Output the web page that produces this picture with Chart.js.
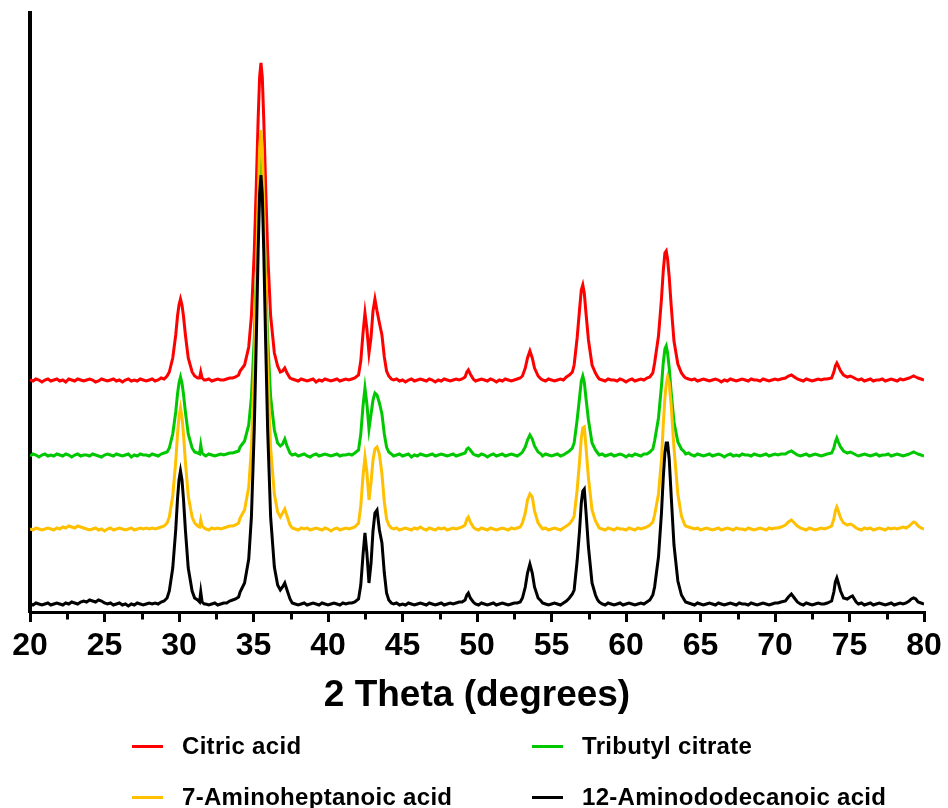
<!DOCTYPE html>
<html>
<head>
<meta charset="utf-8">
<title>XRD patterns</title>
<script src="https://cdn.jsdelivr.net/npm/chart.js@4.4.1/dist/chart.umd.min.js"></script>
<style>
  html, body { margin: 0; padding: 0; background: #fff; }
  #wrap { position: relative; width: 948px; height: 808px; overflow: hidden; }
  #xrd { position: absolute; left: 0; top: 0; }
  #legend {
    position: absolute; left: 0; top: 0; width: 948px; height: 808px; pointer-events: none;
    font-family: "Liberation Sans", Arial, sans-serif; font-weight: bold; font-size: 24px;
    letter-spacing: 0.3px; color: #000;
  }
  .item { position: absolute; display: flex; align-items: center; height: 30px; white-space: nowrap; }
  .swatch { width: 31px; height: 3px; margin-right: 19px; }
  .i0 { left: 132px; top: 731px; }
  .i1 { left: 532px; top: 731px; }
  .i2 { left: 132px; top: 782px; }
  .i3 { left: 532px; top: 782px; }
</style>
</head>
<body>
<div id="wrap">
  <canvas id="xrd" width="948" height="808"></canvas>
  <div id="legend"></div>
</div>
<script>
// 2θ positions (degrees), denser around the reflections
const twoTheta = [
  20.0, 20.2, 20.4, 20.6, 20.8, 21.0, 21.2, 21.4, 21.6, 21.8, 22.0, 22.2, 22.4, 22.6, 22.8, 23.0, 23.2, 23.4, 23.6, 23.8, 24.0, 24.2, 24.4, 24.6, 24.8, 25.0, 25.2, 25.4, 25.6, 25.8, 26.0, 26.2, 26.4, 26.6, 26.8, 27.0, 27.2, 27.4, 27.6, 27.8, 28.0, 28.2, 28.4, 28.6, 28.8, 29.0, 29.2,
  29.35, 29.58, 29.78, 29.9, 30.0, 30.1, 30.2, 30.3, 30.43, 30.62, 30.88, 31.05, 31.25,
  31.38, 31.46, 31.55, 31.7,
  31.8, 32.0, 32.2, 32.4, 32.6, 32.8, 33.0, 33.2, 33.4, 33.6, 33.8, 34.0,
  34.1, 34.4, 34.68, 34.86, 35.05, 35.18, 35.31, 35.41, 35.5, 35.59, 35.69, 35.82, 35.95, 36.15, 36.4, 36.62, 36.8,
  36.95, 37.1, 37.25, 37.45,
  37.6, 37.8, 38.0, 38.2, 38.4, 38.6, 38.8, 39.0, 39.2, 39.4, 39.6, 39.8, 40.0, 40.2, 40.4, 40.6, 40.8, 41.0, 41.2, 41.4, 41.6, 41.8,
  42.05, 42.2, 42.35, 42.48, 42.61, 42.75, 42.89, 43.02, 43.15, 43.29, 43.45, 43.62, 43.78, 43.93, 44.08, 44.25,
  44.4, 44.6, 44.8, 45.0, 45.2, 45.4, 45.6, 45.8, 46.0, 46.2, 46.4, 46.6, 46.8, 47.0, 47.2, 47.4, 47.6, 47.8, 48.0, 48.2, 48.4, 48.6, 48.8, 49.0,
  49.2, 49.32, 49.42, 49.55, 49.75,
  49.9, 50.1, 50.3, 50.5, 50.7, 50.9, 51.1, 51.3, 51.5, 51.7, 51.9, 52.1, 52.3, 52.5, 52.7, 52.9,
  53.05, 53.24, 53.39, 53.55, 53.71, 53.86, 54.1, 54.3,
  54.4, 54.6, 54.8, 55.0, 55.2, 55.4, 55.6, 55.8, 56.0, 56.2, 56.4,
  56.52, 56.72, 56.88, 57.0, 57.1, 57.2, 57.32, 57.48, 57.72, 57.95, 58.1,
  58.2, 58.4, 58.6, 58.8, 59.0, 59.2, 59.4, 59.6, 59.8, 60.0, 60.2, 60.4, 60.6, 60.8, 61.0, 61.2, 61.4, 61.6, 61.8,
  61.92, 62.18, 62.38, 62.5, 62.61, 62.7, 62.79, 62.9, 63.03, 63.22, 63.48, 63.72, 63.92,
  64.0, 64.2, 64.4, 64.6, 64.8, 65.0, 65.2, 65.4, 65.6, 65.8, 66.0, 66.2, 66.4, 66.6, 66.8, 67.0, 67.2, 67.4, 67.6, 67.8, 68.0, 68.2, 68.4, 68.6, 68.8, 69.0, 69.2, 69.4, 69.6, 69.8, 70.0, 70.2, 70.4,
  70.7, 70.9, 71.1, 71.3, 71.5,
  71.7, 71.9, 72.1, 72.3, 72.5, 72.7, 72.9, 73.1, 73.3, 73.5,
  73.8, 73.95, 74.05, 74.15, 74.25, 74.4, 74.6, 74.85, 75.05, 75.2, 75.45,
  75.6, 75.8, 76.0, 76.2, 76.4, 76.6, 76.8, 77.0, 77.2, 77.4, 77.6, 77.8, 78.0, 78.2, 78.4, 78.6, 78.8,
  79.0, 79.15, 79.3, 79.45, 79.6, 79.8, 80.0
];

// Intensities above each pattern's own baseline (a.u.)
const citricAcid = [
  1, 0, 2, 1, -1, 1, 2, 0, 1, 2, 0, 1, -1, 2, 1, 0, 2, 1, 0, 1, 2, 1, -1, 0, 2, 1, 0, 1, 2, 0, 1, -1, 1, 2, 0, 1, 0, 2, 1, 0, 1, 2, 0, 1, 3, 2, 5,
  9, 23, 46, 65, 76, 82, 76, 65, 46, 23, 9, 5, 3,
  3, 9, 3, 1,
  1, 2, 0, 1, 2, 1, 1, 2, 3, 3, 4, 6,
  10, 16, 34, 65, 129, 192, 261, 304, 318, 304, 261, 192, 129, 65, 28, 15, 9,
  10, 13, 8, 3,
  2, 1, 0, 2, 1, 0, 1, 2, -1, 1, 0, 2, 1, 0, 1, 2, 0, 1, 2, 1, 2, 3,
  6, 20, 48, 68, 52, 28, 44, 70, 82, 70, 58, 46, 24, 10, 5, 2,
  1, 2, 0, 1, -1, 1, 2, 0, 1, 2, 1, 0, 2, 1, -1, 1, 0, 2, 1, 0, 1, 2, 1, 2,
  4, 9, 11, 7, 2,
  0, 1, 2, 1, 0, 2, 1, -1, 1, 0, 2, 1, 0, 1, 2, 3,
  5, 13, 23, 30, 23, 13, 5, 2,
  1, 0, 2, 1, 0, 1, 2, 1, 4, 6, 9,
  16, 43, 71, 91, 96, 88, 67, 41, 16, 8, 4,
  2, 1, 0, 2, 1, 1, 0, 2, 1, -1, 1, 2, 0, 1, 2, 1, 3, 4, 8,
  18, 45, 82, 110, 128, 130, 122, 104, 76, 40, 17, 8, 4,
  3, 2, 1, 2, 0, 1, 2, 1, 0, 1, 2, 1, -1, 1, 0, 2, 1, 0, 1, 2, 1, 0, 2, 1, 1, 0, 2, 1, 0, 1, 2, 1, 2,
  3, 5, 6, 4, 2,
  1, 0, 2, 1, 0, 1, 2, 1, 2, 2,
  3, 9, 15, 18, 15, 10, 6, 4, 5, 4, 2,
  1, 2, 0, 1, 2, 0, 1, 1, 2, 0, 1, 2, 1, 0, 2, 1, 2,
  3, 4, 5, 4, 3, 2, 1
];

const tributylCitrate = [
  0, 2, 1, -1, 1, 2, 0, 1, 0, 2, 1, 0, 2, 1, -1, 1, 2, 0, 1, 1, 0, 2, 1, 0, -1, 1, 2, 1, 0, 2, 1, 0, 1, 2, -1, 1, 0, 2, 1, 1, 0, 2, 1, 0, 2, 3, 4,
  8, 22, 44, 62, 73, 79, 73, 62, 44, 22, 8, 4, 3,
  2, 11, 3, 1,
  0, 2, 1, 0, 1, 2, 1, 2, 3, 3, 4, 5,
  9, 15, 31, 59, 118, 175, 238, 277, 290, 277, 238, 175, 118, 59, 26, 13, 10,
  12, 17, 10, 3,
  1, 2, 0, 1, 2, 0, -1, 1, 2, 0, 1, 2, 1, 0, 1, 2, 0, 1, 1, 2, 1, 3,
  6, 22, 50, 68, 52, 27, 42, 56, 63, 61, 53, 42, 22, 9, 4, 2,
  0, 1, 2, 0, 1, 2, -1, 1, 0, 2, 1, 0, 1, 2, 0, 1, 2, 1, 0, 1, 2, 0, 1, 2,
  3, 7, 8, 6, 2,
  1, 0, 2, 1, -1, 1, 2, 0, 1, 2, 0, 1, 2, 1, 0, 2,
  4, 9, 16, 21, 17, 10, 4, 2,
  0, 2, 1, 0, 1, 2, 0, 1, 3, 5, 8,
  13, 36, 58, 75, 80, 74, 57, 36, 13, 6, 3,
  1, 2, 0, 1, 2, 0, 1, 2, 1, -1, 1, 0, 2, 1, 0, 2, 2, 4, 7,
  15, 38, 70, 93, 107, 110, 103, 88, 64, 34, 14, 7, 4,
  2, 3, 1, 0, 2, 1, 0, 1, 2, 0, 1, 2, 1, -1, 1, 2, 0, 1, 0, 2, 1, 1, 0, 2, 1, 0, 1, 2, 0, 1, 2, 1, 2,
  2, 4, 5, 3, 1,
  0, 1, 2, 0, 1, 2, 1, 0, 1, 2,
  3, 8, 14, 18, 14, 9, 5, 3, 4, 3, 1,
  0, 1, 2, 1, 0, 1, 2, 0, 1, 1, 2, 0, 1, 2, 1, 0, 1,
  2, 3, 4, 3, 2, 1, 0
];

const aminoheptanoicAcid = [
  1, 0, 2, 1, 0, 1, 2, 1, 0, 2, 1, 3, 2, 4, 3, 2, 4, 3, 2, 1, 0, 1, 2, 0, 1, -1, 1, 2, 0, 1, 2, 1, 0, 1, 2, 0, 1, 2, 1, 2, 1, 2, 1, 2, 3, 4, 7,
  13, 34, 68, 96, 113, 122, 113, 96, 68, 34, 13, 7, 4,
  3, 10, 4, 2,
  1, 0, 2, 1, 2, 1, 2, 3, 4, 4, 5, 7,
  12, 20, 43, 82, 163, 242, 328, 382, 400, 382, 328, 242, 163, 82, 36, 18, 13,
  17, 21, 14, 5,
  2, 1, 0, 2, 1, 2, 0, 1, 2, 1, 0, 2, 1, -1, 1, 2, 0, 1, 2, 1, 2, 3,
  7, 24, 54, 73, 58, 30, 48, 70, 81, 83, 76, 56, 28, 11, 5, 2,
  1, 2, 0, 1, 2, 1, 0, 2, 1, 3, 1, 0, 2, 1, 0, 2, 1, 2, 0, 1, 2, 1, 2, 3,
  5, 11, 13, 8, 3,
  1, 0, 2, 1, 0, 2, 1, 0, 1, 2, 1, 0, 2, 1, 2, 3,
  7, 17, 30, 36, 33, 19, 7, 3,
  1, 2, 0, 1, 2, 1, 0, 2, 4, 6, 10,
  14, 40, 68, 92, 102, 103, 82, 52, 20, 9, 5,
  2, 1, 0, 2, 1, 0, 2, 1, 1, 0, 2, 1, 0, 2, 1, 2, 3, 5, 8,
  15, 36, 70, 105, 132, 146, 153, 147, 125, 82, 36, 14, 6,
  4, 3, 2, 1, 2, 0, 1, 2, 1, 0, 1, 2, 0, 1, 2, 1, 0, 2, 1, 1, 0, 2, 1, 0, 1, 2, 1, 0, 2, 1, 2, 2, 3,
  5, 8, 10, 7, 4,
  2, 1, 0, 2, 1, 0, 1, 2, 1, 2,
  4, 11, 19, 23, 19, 12, 7, 5, 6, 5, 2,
  1, 0, 2, 1, 2, 0, 1, 2, 1, 0, 2, 1, 2, 1, 2, 3, 2,
  4, 6, 8, 7, 4, 2, 1
];

const aminododecanoicAcid = [
  1, 0, 2, 1, 0, 1, 2, 0, 1, 2, 1, 0, 2, 1, 3, 2, 1, 3, 4, 3, 5, 4, 3, 5, 4, 2, 1, 2, 0, 1, 2, 0, 1, -1, 1, 0, 2, 1, 0, 1, 2, 1, 2, 1, 3, 4, 7,
  14, 37, 75, 106, 125, 134, 125, 106, 75, 37, 14, 7, 5,
  3, 13, 3, 1,
  1, 0, 1, 2, 0, 1, 2, 2, 4, 5, 6, 8,
  13, 22, 46, 88, 175, 260, 353, 411, 430, 411, 353, 260, 175, 88, 38, 20, 15,
  18, 22, 15, 6,
  2, 1, 0, 1, 2, 0, 1, 2, 1, 0, 2, 1, 0, 1, 2, 1, 0, 2, 1, 2, 2, 3,
  6, 20, 50, 72, 52, 22, 42, 74, 92, 95, 75, 62, 32, 12, 5, 2,
  1, 2, 0, 1, 0, 2, 1, 0, 1, 2, 1, 0, 2, 1, 0, 1, 2, 0, 1, 2, 1, 2, 3, 3,
  5, 10, 12, 7, 3,
  1, 0, 2, 1, 0, 1, 2, 0, 1, 2, 1, 0, 1, 2, 2, 3,
  7, 18, 32, 41, 32, 18, 7, 4,
  2, 1, 0, 1, 2, 1, 0, 2, 4, 7, 11,
  15, 44, 74, 102, 114, 116, 92, 58, 22, 10, 5,
  3, 1, 0, 2, 1, 0, 1, 2, 0, 1, 2, 1, 0, 1, 2, 1, 3, 5, 10,
  18, 48, 92, 127, 152, 162, 162, 146, 110, 60, 24, 10, 5,
  3, 2, 1, 0, 2, 1, 0, 1, 2, 1, 0, 2, 1, 0, 1, 2, 1, 0, 2, 1, 1, 0, 2, 1, 0, 1, 2, 1, 0, 1, 2, 2, 3,
  4, 8, 11, 7, 3,
  1, 0, 2, 1, 0, 1, 2, 1, 1, 2,
  4, 13, 23, 27, 22, 14, 7, 6, 8, 9, 3,
  1, 2, 0, 1, 2, 0, 1, 2, 1, 0, 1, 2, 0, 1, 2, 1, 2,
  4, 6, 7, 6, 3, 2, 1
];

const seriesNames = ['Citric acid', 'Tributyl citrate', '7-Aminoheptanoic acid', '12-Aminododecanoic acid'];
const seriesValues = [citricAcid, tributylCitrate, aminoheptanoicAcid, aminododecanoicAcid];
const seriesColors = ['#ff0000', '#00c800', '#ffc000', '#000000'];
// vertical stacking offset of each pattern (a.u.)
const stackOffsets = [231, 156, 82, 7];

const xTicks = [20, 25, 30, 35, 40, 45, 50, 55, 60, 65, 70, 75, 80];
const minorTicks = [22.5, 27.5, 32.5, 37.5, 42.5, 47.5, 52.5, 57.5, 62.5, 67.5, 72.5, 77.5];

const FONT = '"Liberation Sans", Arial, Helvetica, sans-serif';

// short tick marks halfway between the labelled ones
const minorTickMarks = {
  id: 'minorTickMarks',
  afterDraw(chart) {
    const { ctx, chartArea } = chart;
    const xs = chart.scales.x;
    ctx.save();
    ctx.strokeStyle = '#000';
    ctx.lineWidth = 3;
    minorTicks.forEach(v => {
      const px = Math.round(xs.getPixelForValue(v)) + 0.5;
      ctx.beginPath();
      ctx.moveTo(px, chartArea.bottom);
      ctx.lineTo(px, chartArea.bottom + 7.5);
      ctx.stroke();
    });
    ctx.restore();
  }
};

const datasets = seriesValues.map((vals, i) => ({
  label: seriesNames[i],
  data: twoTheta.slice(0, vals.length).map((t, j) => ({ x: t, y: vals[j] + stackOffsets[i] })),
  borderColor: seriesColors[i],
  backgroundColor: seriesColors[i],
  borderWidth: 3,
  pointRadius: 0,
  tension: 0,
  fill: false,
  order: seriesValues.length - 1 - i
}));

const chart = new Chart(document.getElementById('xrd'), {
  type: 'line',
  data: { datasets },
  options: {
    responsive: false,
    animation: false,
    devicePixelRatio: 1,
    layout: { padding: { left: 30, right: 24, top: 13, bottom: 90 } },
    plugins: { legend: { display: false }, tooltip: { enabled: false } },
    scales: {
      x: {
        type: 'linear',
        min: 20,
        max: 80,
        afterBuildTicks: s => { s.ticks = xTicks.map(v => ({ value: v })); },
        afterFit: s => { s.height = 106; },
        ticks: {
          color: '#000',
          padding: 5,
          maxRotation: 0,
          autoSkip: false,
          font: { family: FONT, size: 32, weight: 'bold' }
        },
        grid: {
          display: true,
          drawOnChartArea: false,
          drawTicks: true,
          tickLength: 10,
          color: '#000',
          lineWidth: 3
        },
        border: { display: true, color: '#000', width: 3 },
        title: {
          display: true,
          text: '2 Theta (degrees)',
          color: '#000',
          padding: { top: 0, bottom: 0 },
          font: { family: FONT, size: 37, weight: 'bold' }
        }
      },
      y: {
        min: 0,
        max: 599,
        afterFit: s => { s.width = 0; },
        ticks: { display: false },
        grid: { display: false, drawTicks: false },
        border: { display: true, color: '#000', width: 4 }
      }
    }
  },
  plugins: [minorTickMarks]
});

// legend, two columns, built from the datasets
const legend = document.getElementById('legend');
chart.data.datasets.forEach((ds, i) => {
  const item = document.createElement('div');
  item.className = 'item i' + i;
  const sw = document.createElement('span');
  sw.className = 'swatch';
  sw.style.background = ds.borderColor;
  const label = document.createElement('span');
  label.textContent = ds.label;
  item.appendChild(sw);
  item.appendChild(label);
  legend.appendChild(item);
});
</script>
</body>
</html>
